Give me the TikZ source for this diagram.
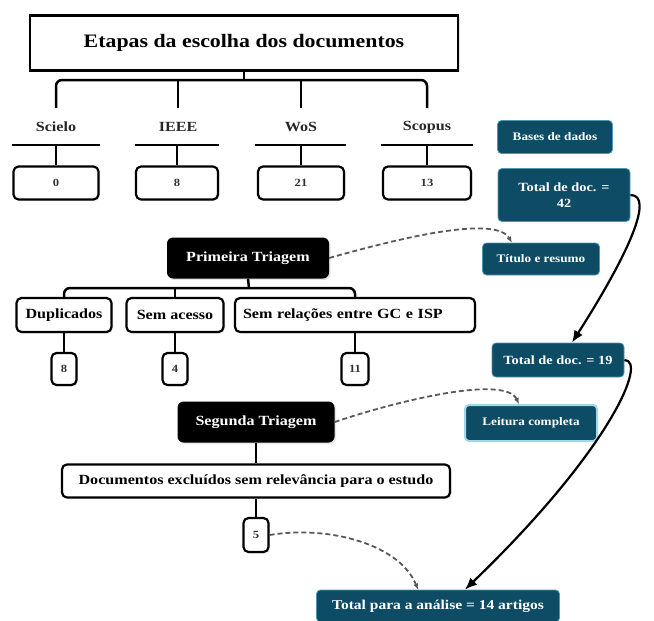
\documentclass[tikz,border=0pt]{standalone}
\usepackage{fontspec}
\setmainfont{Liberation Serif}[FakeStretch=1.15]
\usetikzlibrary{arrows.meta,shadows}
\definecolor{teal1}{RGB}{14,76,102}
\definecolor{tealborder}{RGB}{80,150,180}
\definecolor{lightb}{RGB}{165,215,235}
\begin{document}
\begin{tikzpicture}[x=1pt,y=-1pt,
  shd/.style={drop shadow={opacity=0.2,shadow xshift=1.5pt,shadow yshift=-1.5pt}},
  wbox/.style={draw=black, line width=2.2pt, rounded corners=5pt, fill=white, inner sep=0pt, shd,
    font=\bfseries\fontsize{14}{16}\selectfont},
  numbox/.style={wbox, font=\bfseries\fontsize{11}{13}\selectfont, text=black!80},
  titlebox/.style={draw=black, line width=2.5pt, fill=white, inner sep=0pt, shd,
    font=\bfseries\fontsize{19}{22}\selectfont},
  lbl/.style={inner sep=0pt, font=\bfseries\fontsize{14}{16}\selectfont, text=black!85},
  bbox/.style={fill=black, rounded corners=6pt, text=white, inner sep=0pt, shd,
    font=\bfseries\fontsize{14}{16}\selectfont},
  tbox/.style={fill=teal1, draw=tealborder, line width=0.8pt, rounded corners=4pt, text=white,
    inner sep=0pt, align=center, font=\bfseries\fontsize{12.5}{16}\selectfont},
  conn/.style={line width=2.5pt, rounded corners=6pt},
  sarrow/.style={line width=2.2pt, -{Latex[length=12pt,width=10pt]}},
  darrow/.style={line width=1.8pt, dash pattern=on 5pt off 3pt, draw=black!65, -{Latex[length=6pt,width=5pt]}},
]
\useasboundingbox (0,0) rectangle (654,621);

% title and sources
\node[titlebox, minimum width=428pt, minimum height=55pt] (title) at (244,43) {Etapas da escolha dos documentos};
\coordinate (tb) at (244,80);

\node[lbl] (lsc) at (56,127) {Scielo};
\node[lbl] (lie) at (178,127) {IEEE};
\node[lbl] (lwo) at (301,127) {WoS};
\node[lbl] (lsp) at (427,127) {Scopus};

\coordinate (tsc) at (56,108);
\coordinate (tie) at (178,108);
\coordinate (two) at (301,108);
\coordinate (tsp) at (427,108);

\draw[conn] (title.south) -- (tb);
\draw[conn] (tsc) -- (tsc |- tb) -- (tsp |- tb) -- (tsp);
\draw[conn] (tie |- tb) -- (tie);
\draw[conn] (two |- tb) -- (two);

\coordinate (usc1) at (12,145); \coordinate (usc2) at (100,145); \coordinate (usc) at (56,145);
\coordinate (uie1) at (135,145); \coordinate (uie2) at (219,145); \coordinate (uie) at (177,145);
\coordinate (uwo1) at (255,145); \coordinate (uwo2) at (346,145); \coordinate (uwo) at (301,145);
\coordinate (usp1) at (381,145); \coordinate (usp2) at (473,145); \coordinate (usp) at (427,145);
\draw[line width=2.5pt] (usc1) -- (usc2);
\draw[line width=2.5pt] (uie1) -- (uie2);
\draw[line width=2.5pt] (uwo1) -- (uwo2);
\draw[line width=2.5pt] (usp1) -- (usp2);

\node[numbox, minimum width=85pt, minimum height=33pt] (n0) at (56,183) {0};
\node[numbox, minimum width=82pt, minimum height=33pt] (n8) at (177,183) {8};
\node[numbox, minimum width=86pt, minimum height=33pt] (n21) at (301,183) {21};
\node[numbox, minimum width=88pt, minimum height=33pt] (n13) at (427,183) {13};

\draw[conn] (usc) -- (n0.north);
\draw[conn] (uie) -- (n8.north);
\draw[conn] (uwo) -- (n21.north);
\draw[conn] (usp) -- (n13.north);

% right column
\node[tbox, minimum width=115pt, minimum height=33pt, font=\bfseries\fontsize{11.5}{14}\selectfont] (bases) at (555,137) {Bases de dados};
\node[tbox, minimum width=132pt, minimum height=53pt] (tot42) at (564,195) {Total de doc. =\\42};
\node[tbox, minimum width=117pt, minimum height=32pt, font=\bfseries\fontsize{11.5}{14}\selectfont] (titulo) at (541,259) {Título e resumo};
\node[tbox, minimum width=132pt, minimum height=34pt] (tot19) at (558,360) {Total de doc. = 19};
\node[tbox, draw=lightb, line width=2pt, minimum width=132pt, minimum height=36pt, font=\bfseries\fontsize{11.5}{14}\selectfont] (leitura) at (531,423) {Leitura completa};
\node[tbox, minimum width=243pt, minimum height=32pt, font=\bfseries\fontsize{13.5}{16}\selectfont] (total) at (438,606) {Total para a análise = 14 artigos};

% primeira triagem
\node[bbox, minimum width=162pt, minimum height=41pt] (prim) at (248,258) {Primeira Triagem};
\coordinate (pb) at (249,288);
\node[wbox, minimum width=95pt, minimum height=34pt] (dup) at (64,315) {Duplicados};
\node[wbox, minimum width=97pt, minimum height=34pt] (semac) at (175,315) {Sem acesso};
\node[wbox, minimum width=240pt, minimum height=34pt, text width=224pt, align=left] (semrel) at (355,315) {Sem relações entre GC e ISP};
\draw[conn] (prim.south) -- (pb);
\draw[conn] (dup.north) -- (dup.north |- pb) -- (semrel.north |- pb) -- (semrel.north);
\draw[conn] (semac.north |- pb) -- (semac.north);

\node[numbox, minimum width=25pt, minimum height=32pt] (m8) at (64,369) {8};
\node[numbox, minimum width=25pt, minimum height=32pt] (m4) at (175,369) {4};
\node[numbox, minimum width=27pt, minimum height=32pt] (m11) at (355,369) {11};
\draw[conn] (dup.south) -- (m8.north);
\draw[conn] (semac.south) -- (m4.north);
\draw[conn] (semrel.south) -- (m11.north);

% segunda triagem
\node[bbox, minimum width=157pt, minimum height=41pt] (seg) at (256,422) {Segunda Triagem};
\node[wbox, minimum width=388pt, minimum height=33pt] (docs) at (256,481) {Documentos excluídos sem relevância para o estudo};
\node[numbox, minimum width=25pt, minimum height=34pt] (m5) at (256,535) {5};
\draw[conn] (seg.south) -- (docs.north);
\draw[conn] (docs.south) -- (m5.north);

% arrows
\draw[sarrow] (tot42.east) .. controls (655,195) and (628,255) .. ([xshift=14pt]tot19.north);
\draw[sarrow] (tot19.east) .. controls (648,360) and (610,450) .. ([xshift=27pt]total.north);
\draw[darrow] (prim.east) .. controls (400,238) and (495,215) .. ([xshift=-29pt]titulo.north);
\draw[darrow] (seg.east) .. controls (400,400) and (505,375) .. ([xshift=-12pt]leitura.north);
\draw[darrow] (m5.east) .. controls (330,525) and (400,545) .. ([xshift=-20pt]total.north);
\end{tikzpicture}
\end{document}
